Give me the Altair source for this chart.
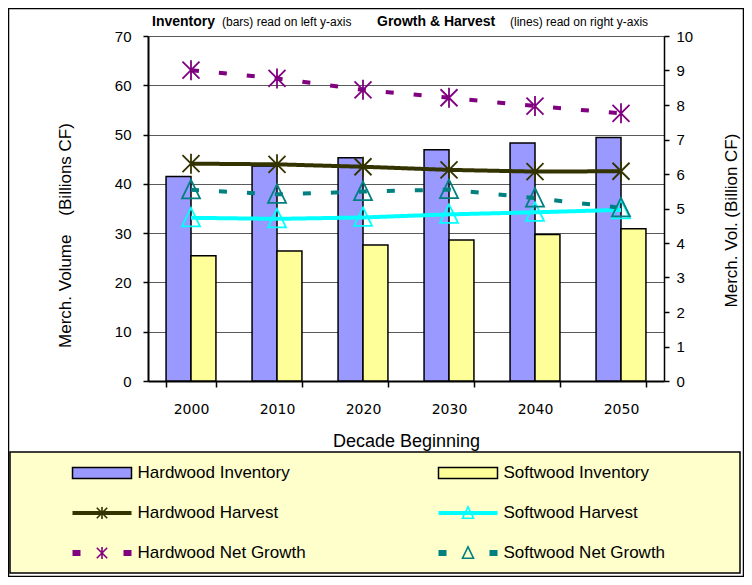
import altair as alt
import pandas as pd

# ---------------- data ----------------
decades = ["2000", "2010", "2020", "2030", "2040", "2050"]
hardwood_inventory = [41.5, 43.6, 45.3, 46.9, 48.3, 49.4]
softwood_inventory = [25.4, 26.4, 27.6, 28.6, 29.7, 30.9]
hardwood_harvest = [6.30, 6.28, 6.21, 6.12, 6.07, 6.08]
softwood_harvest = [4.73, 4.70, 4.74, 4.83, 4.89, 4.96]
hardwood_growth = [9.01, 8.77, 8.44, 8.21, 7.97, 7.76]
softwood_growth = [5.54, 5.41, 5.49, 5.55, 5.30, 5.02]

series_names = ["Hardwood Inventory", "Softwood Inventory", "Hardwood Harvest",
                "Softwood Harvest", "Hardwood Net Growth", "Softwood Net Growth"]
series_colors = ["#9999FF", "#FFFF99", "#333300", "#00FFFF", "#800080", "#008080"]
legend_cols = [0, 1, 0, 1, 0, 1]
legend_rows = [0, 0, 1, 1, 2, 2]
header_parts = ["Inventory", "(bars) read on left y-axis",
                "Growth & Harvest", "(lines) read on right y-axis"]

bar_df = pd.DataFrame({
    "decade": decades * 2,
    "series": [series_names[0]] * 6 + [series_names[1]] * 6,
    "value": hardwood_inventory + softwood_inventory,
})
line_series = series_names[2:]
line_df = pd.DataFrame({
    "decade": decades * 4,
    "series": sum([[s] * 6 for s in line_series], []),
    "value": hardwood_harvest + softwood_harvest + hardwood_growth + softwood_growth,
})
leg_df = pd.DataFrame({"series": series_names, "lcol": legend_cols, "lrow": legend_rows})
one = pd.DataFrame({"k": [0]})

FONT = "Liberation Sans"
STAR = "M-0.85,-0.85L0.85,0.85M-0.85,0.85L0.85,-0.85M0,-1L0,1"
TRI = "M0,-1L0.9,0.85L-0.9,0.85Z"

color_scale = alt.Scale(domain=series_names, range=series_colors)
shape_scale = alt.Scale(domain=line_series, range=[STAR, TRI, STAR, TRI])
dash_scale = alt.Scale(domain=line_series, range=[[1, 0], [1, 0], [8, 20], [8, 20]])
width_scale = alt.Scale(domain=line_series, range=[4, 4, 5, 5])

x_scale = alt.Scale(domain=decades, paddingInner=0.42, paddingOuter=0.21)
x_axis = alt.Axis(title="Decade Beginning", labelAngle=0, tickBand="extent", tickSize=6,
                  tickColor="black", tickWidth=1.5, domainColor="black", domainWidth=2,
                  labelFont="DejaVu Sans", labelFontSize=14, labelPadding=15, labelColor="black",
                  titleFont=FONT, titleFontSize=18, titleFontWeight="normal",
                  titleColor="black", titleY=60, titleBaseline="middle", grid=False)

left_axis = alt.Axis(orient="left", values=list(range(0, 71, 10)), tickSize=5,
                     tickColor="black", tickWidth=1.5, domainColor="black", domainWidth=2,
                     labelFont=FONT, labelFontSize=15, labelPadding=12, labelColor="black",
                     grid=True, gridColor="#5a5a5a", gridWidth=1,
                     title="Merch. Volume\u00a0\u00a0\u00a0\u00a0(Billions CF)",
                     titleFont=FONT, titleFontSize=17, titleFontWeight="normal",
                     titleColor="black", titleAngle=270, titleX=-83, titleY=199,
                     titleBaseline="middle")

right_axis = alt.Axis(orient="right", values=list(range(0, 11)), tickSize=5,
                      tickColor="black", tickWidth=1.5, domainColor="black", domainWidth=1.5,
                      labelFont=FONT, labelFontSize=15, labelPadding=7, labelColor="black",
                      grid=False, title="Merch. Vol. (Billion CF)",
                      titleFont=FONT, titleFontSize=17, titleFontWeight="normal",
                      titleColor="black", titleAngle=270, titleX=67, titleY=184,
                      titleBaseline="middle")

bars = alt.Chart(bar_df).mark_bar(stroke="black", strokeWidth=1.5).encode(
    x=alt.X("decade:N", scale=x_scale, axis=x_axis, sort=decades),
    xOffset=alt.XOffset("series:N", sort=series_names[:2],
                        scale=alt.Scale(paddingInner=0, paddingOuter=0)),
    y=alt.Y("value:Q", scale=alt.Scale(domain=[0, 70], nice=False), axis=left_axis),
    color=alt.Color("series:N", scale=color_scale, legend=None),
)

line_y = alt.Y("value:Q", scale=alt.Scale(domain=[0, 10], nice=False), axis=right_axis)
line_x = alt.X("decade:N", scale=x_scale, axis=x_axis, sort=decades)

lines = alt.Chart(line_df).mark_line().encode(
    x=line_x, y=line_y,
    color=alt.Color("series:N", scale=color_scale, legend=None),
    strokeDash=alt.StrokeDash("series:N", scale=dash_scale, legend=None),
    strokeWidth=alt.StrokeWidth("series:N", scale=width_scale, legend=None),
    detail="series:N",
)
points = alt.Chart(line_df).mark_point(filled=False, size=400, strokeWidth=1.8, opacity=1).encode(
    x=line_x, y=line_y,
    color=alt.Color("series:N", scale=color_scale, legend=None),
    shape=alt.Shape("series:N", scale=shape_scale, legend=None),
)

main = alt.layer(bars, alt.layer(lines, points)).resolve_scale(y="independent")

# ---------------- legend ----------------
lx = alt.X("lcol:Q", scale=alt.Scale(domain=[0, 1], range=[-46, 320], nice=False, zero=False), axis=None)
ly = alt.Y("lrow:Q", scale=alt.Scale(domain=[0, 2], range=[437, 517], nice=False, zero=False), axis=None)
lcolor = alt.Color("series:N", scale=color_scale, legend=None)

leg_base = alt.Chart(leg_df)
leg_rects = leg_base.transform_filter(alt.FieldOneOfPredicate(field="series", oneOf=series_names[:2])).mark_rect(
    xOffset=-29.5, x2Offset=29.5, yOffset=-5.5, y2Offset=5.5, stroke="black", strokeWidth=1.5
).encode(x=lx, x2="lcol:Q", y=ly, y2="lrow:Q", color=lcolor)
leg_solid = leg_base.transform_filter(alt.FieldOneOfPredicate(field="series", oneOf=series_names[2:4])).mark_rule(
    xOffset=-29.5, x2Offset=29.5, strokeWidth=4
).encode(x=lx, x2="lcol:Q", y=ly, color=lcolor)
leg_dash = leg_base.transform_filter(alt.FieldOneOfPredicate(field="series", oneOf=series_names[4:6])).mark_rule(
    xOffset=-29.5, x2Offset=29.5, strokeWidth=6, strokeDash=[8, 43]
).encode(x=lx, x2="lcol:Q", y=ly, color=lcolor)
leg_points = leg_base.transform_filter(alt.FieldOneOfPredicate(field="series", oneOf=series_names[2:6])).mark_point(
    filled=False, size=150, strokeWidth=1.6, opacity=1
).encode(x=lx, y=ly, color=lcolor, shape=alt.Shape("series:N", scale=shape_scale, legend=None))
leg_text = leg_base.mark_text(align="left", baseline="middle", dx=35.5, fontSize=17, font=FONT,
                              color="black").encode(x=lx, y=ly, text="series:N")

# ---------------- decorations ----------------
outer_border = alt.Chart(one).mark_rect(fillOpacity=0, stroke="black", strokeWidth=1.5).encode(
    x=alt.value(-139.5), x2=alt.value(595.5), y=alt.value(-27.5), y2=alt.value(540.5))
legend_box = alt.Chart(one).mark_rect(fill="#FFFFCC", stroke="black", strokeWidth=1.5).encode(
    x=alt.value(-138), x2=alt.value(592), y=alt.value(416), y2=alt.value(537))

header_x = [4, 74, 229, 362]
header_bold = ["bold", "normal", "bold", "normal"]
header_size = [14, 12, 14, 12]
headers = [
    alt.Chart(one).mark_text(align="left", baseline="middle", font=FONT, fontSize=header_size[i],
                             fontWeight=header_bold[i], color="black").encode(
        x=alt.value(header_x[i]), y=alt.value(-14), text=alt.value(header_parts[i]))
    for i in range(4)
]

chart = alt.layer(
    outer_border, legend_box, main, leg_rects, leg_solid, leg_dash, leg_points, leg_text, *headers
).resolve_scale(x="independent", y="independent").properties(
    width=516, height=345,
    autosize=alt.AutoSizeParams(type="none"),
    padding={"left": 140, "top": 28, "right": 80, "bottom": 196},
    background="white",
).configure_view(stroke="black", strokeWidth=1.5).configure(font=FONT)

chart.save("out.html", embed_options={"renderer": "svg", "actions": False})
